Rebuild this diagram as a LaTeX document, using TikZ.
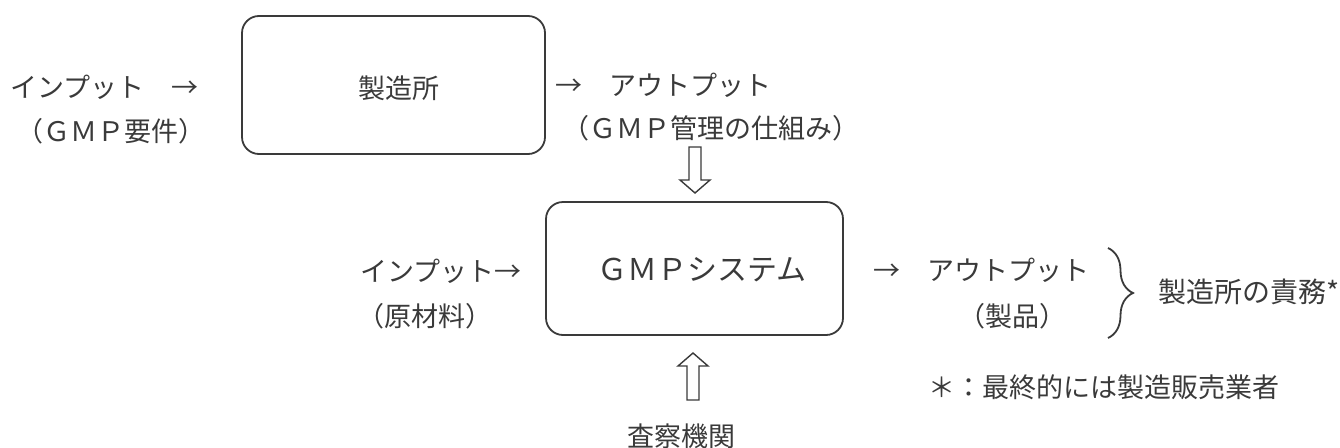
\documentclass[tikz,border=0pt]{standalone}
\usepackage{fontspec}
\setmainfont{Noto Sans CJK JP}
\usetikzlibrary{decorations.pathreplacing}
\definecolor{ink}{HTML}{3A3A3A}
\begin{document}
\begin{tikzpicture}[x=1pt,y=-1pt,
  txt/.style={inner sep=0pt, text=ink, font=\fontsize{27}{30}\selectfont},
  box/.style={draw=ink, line width=1.8pt, rounded corners=17pt, inner sep=0pt},
  fat/.style={draw=ink, line width=1.4pt, fill=white, line join=miter},
  bracestyle/.style={draw=ink, line width=1.8pt, decorate, decoration={brace, amplitude=25pt}}
  ]
\useasboundingbox (0,0) rectangle (1340,447);
% top row
\node[txt, anchor=west] (in1) at (10,87) {インプット　→};
\node[txt] (in1b) at (111,131) {（ＧＭＰ要件）};
\node[box, minimum width=303pt, minimum height=138pt] (b1) at (393.5,85) {};
\node[txt] (b1t) at (399,88) {製造所};
\node[txt, anchor=west] (out1) at (555,85) {→　アウトプット};
\node[txt] (out1b) at (711,128) {（ＧＭＰ管理の仕組み）};
% down hollow arrow
\path[fat] (689,147) -- (701,147) -- (701,180) -- (710,180) -- (695,193) -- (680,180) -- (689,180) -- cycle;
% middle row
\node[box, minimum width=297pt, minimum height=133pt] (b2) at (694.5,268.5) {};
\node[txt, font=\fontsize{30}{34}\selectfont] (b2t) at (702,270) {ＧＭＰシステム};
\node[txt] (in2) at (441,271) {インプット→};
\node[txt] (in2b) at (425,316) {（原材料）};
\node[txt] (out2) at (981,270) {→　アウトプット};
\node[txt] (out2b) at (1012,316) {（製品）};
\draw[bracestyle] (1108,248) -- (1108,338);
\node[txt, anchor=west, font=\fontsize{28}{31}\selectfont] (resp) at (1158,292) {製造所の責務*};
\node[txt, anchor=west] (note) at (928,387) {＊：最終的には製造販売業者};
% up hollow arrow
\path[fat] (693,353) -- (708,366) -- (699,366) -- (699,400) -- (687,400) -- (687,366) -- (678,366) -- cycle;
\node[txt] (insp) at (681,436) {査察機関};
\end{tikzpicture}
\end{document}
